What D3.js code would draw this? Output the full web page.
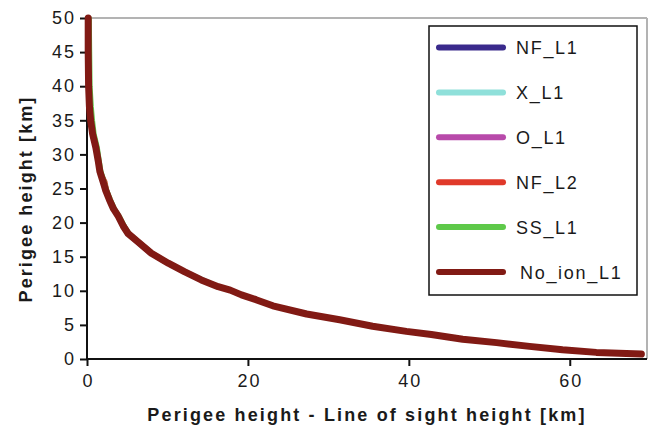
<!DOCTYPE html>
<html>
<head>
<meta charset="utf-8">
<script src="https://cdn.jsdelivr.net/npm/d3@7"></script>
<style>
    body { margin: 0; background: #fff; }
    text { font-family: "Liberation Sans", Arial, sans-serif; fill: #1a1a1a; }
</style>
</head>
<body>
<div id="chartcontainer"></div>
<script>
// Perigee height [km] (shared y values)
var perigeeHeight = [50, 45, 40, 37, 35, 33, 31, 29, 27.5, 26, 24.8, 23.3, 22, 20.9, 19.5, 18.4, 17.2, 15.5,
    14.05, 12.8, 11.6, 10.6, 10.1, 9.4, 8.7, 7.8, 6.6, 5.75, 4.8, 4.05, 3.6, 2.9, 2.4, 1.85, 1.35, 0.97, 0.73];

// Perigee height - line of sight height [km], one array per series
var nfL1    = [0.15, 0.15, 0.2, 0.3, 0.45, 0.7, 1.1, 1.4, 1.6, 2.0, 2.3, 2.8, 3.3, 3.9, 4.5, 5.1, 6.3, 8.0, 10.1, 12.1, 14.2, 16.3, 17.8, 19.2, 21.0, 23.1, 27.3, 31.4, 35.5, 39.7, 42.8, 46.7, 50.9, 55.0, 59.1, 63.3, 68.9];
var xL1     = [0.2, 0.2, 0.25, 0.35, 0.5, 0.75, 1.15, 1.45, 1.7, 2.1, 2.4, 2.9, 3.4, 4.0, 4.7, 5.3, 6.5, 8.2, 10.3, 12.4, 14.6, 16.5, 18.0, 19.4, 21.2, 23.3, 27.5, 31.6, 35.7, 39.9, 43.0, 47.0, 51.2, 55.3, 59.4, 63.5, 69.0];
var oL1     = [0.15, 0.15, 0.2, 0.3, 0.45, 0.65, 1.05, 1.35, 1.55, 1.95, 2.25, 2.7, 3.2, 3.8, 4.4, 5.0, 6.1, 7.8, 9.9, 11.9, 14.0, 16.1, 17.6, 19.0, 20.9, 23.0, 27.2, 31.3, 35.4, 39.6, 42.7, 46.6, 50.8, 54.9, 59.0, 63.2, 68.9];
var nfL2    = [0.15, 0.2, 0.2, 0.3, 0.5, 0.7, 1.1, 1.45, 1.65, 2.3, 2.5, 2.9, 3.4, 4.0, 4.6, 5.2, 6.4, 8.1, 10.2, 12.2, 14.3, 16.4, 17.9, 19.3, 21.1, 23.2, 27.4, 31.5, 35.6, 39.8, 42.9, 46.8, 51.0, 55.1, 59.2, 63.4, 68.9];
var ssL1    = [0.35, 0.4, 0.45, 0.6, 0.75, 0.95, 1.35, 1.6, 1.8, 2.2, 2.5, 3.0, 3.5, 4.1, 4.7, 5.3, 6.5, 8.2, 10.3, 12.3, 14.4, 16.5, 18.0, 19.4, 21.2, 23.3, 27.5, 31.6, 35.7, 39.9, 43.0, 46.9, 51.1, 55.2, 59.3, 63.5, 69.0];
var noIonL1 = [0.15, 0.15, 0.2, 0.3, 0.45, 0.7, 1.1, 1.4, 1.6, 2.0, 2.3, 2.8, 3.3, 3.9, 4.5, 5.1, 6.3, 8.0, 10.1, 12.1, 14.2, 16.3, 17.8, 19.2, 21.0, 23.1, 27.3, 31.4, 35.5, 39.7, 42.8, 46.7, 50.9, 55.0, 59.1, 63.3, 68.9];

var seriesNames = ["NF_L1", "X_L1", "O_L1", "NF_L2", "SS_L1", "No_ion_L1"];
var seriesX = [nfL1, xL1, oL1, nfL2, ssL1, noIonL1];
var seriesColors = ["#3a2a8c", "#8fe0da", "#b84aaa", "#e0392a", "#5ec94a", "#811a14"];

var xTicks = [0, 20, 40, 60];
var yTicks = [0, 5, 10, 15, 20, 25, 30, 35, 40, 45, 50];

var margin = { top: 18, right: 4, bottom: 72, left: 87 },
    fullWidth = 651,
    fullHeight = 431,
    width = fullWidth - margin.left - margin.right,
    height = fullHeight - margin.top - margin.bottom;

var svg = d3.select("#chartcontainer").append("svg")
    .attr("width", fullWidth)
    .attr("height", fullHeight);

var g = svg.append("g")
    .attr("transform", "translate(" + margin.left + "," + margin.top + ")");

var x = d3.scaleLinear().domain([0, 69.6]).range([0, width]);
var y = d3.scaleLinear().domain([0, 50]).range([height, 0]);

// gray frame, top and right
g.append("line").attr("x1", 0).attr("x2", width).attr("y1", 0).attr("y2", 0)
    .attr("stroke", "#b3b3b3").attr("stroke-width", 2);
g.append("line").attr("x1", width).attr("x2", width).attr("y1", 0).attr("y2", height)
    .attr("stroke", "#b3b3b3").attr("stroke-width", 2);

// axes
var xAxis = g.append("g")
    .attr("transform", "translate(0," + height + ")")
    .call(d3.axisBottom(x).tickValues(xTicks).tickSize(7).tickPadding(8).tickFormat(d3.format("d")));
var yAxis = g.append("g")
    .call(d3.axisLeft(y).tickValues(yTicks).tickSize(7).tickPadding(4).tickFormat(d3.format("d")));

[xAxis, yAxis].forEach(function (ax) {
    ax.select(".domain").attr("stroke", "#111").attr("stroke-width", 2);
    ax.selectAll(".tick line").attr("stroke", "#111").attr("stroke-width", 2);
    ax.selectAll(".tick text")
        .style("font-family", "'Liberation Sans', Arial, sans-serif")
        .style("font-size", "18px")
        .style("letter-spacing", "2px")
        .attr("fill", "#1a1a1a");
});
xAxis.selectAll(".tick text").attr("dx", "1px");
xAxis.select(".domain").attr("d", "M0,0H" + width);
yAxis.select(".domain").attr("d", "M0," + height + "V0");

// axis titles
svg.append("text")
    .attr("x", 367)
    .attr("y", 421)
    .attr("text-anchor", "middle")
    .style("font-size", "18px")
    .style("font-weight", "bold")
    .style("letter-spacing", "2.15px")
    .text("Perigee height - Line of sight height [km]");

svg.append("text")
    .attr("transform", "translate(32,199) rotate(-90)")
    .attr("text-anchor", "middle")
    .style("font-size", "18px")
    .style("font-weight", "bold")
    .style("letter-spacing", "2.1px")
    .text("Perigee height [km]");

// series lines
var line = d3.line()
    .x(function (d) { return x(d[0]); })
    .y(function (d) { return y(d[1]); });

seriesX.forEach(function (xs, i) {
    var pts = xs.map(function (v, j) { return [v, perigeeHeight[j]]; });
    g.append("path")
        .datum(pts)
        .attr("d", line)
        .attr("fill", "none")
        .attr("stroke", seriesColors[i])
        .attr("stroke-width", i === 5 ? 7 : 4)
        .attr("stroke-linejoin", "round")
        .attr("stroke-linecap", "round");
});

// legend
var legend = svg.append("g").attr("transform", "translate(429,26)");
legend.append("rect")
    .attr("width", 208).attr("height", 269)
    .attr("fill", "#fff").attr("stroke", "#111").attr("stroke-width", 1.5);

seriesNames.forEach(function (name, i) {
    var ly = 21.5 + i * 44.9;
    legend.append("line")
        .attr("x1", 10).attr("x2", 74)
        .attr("y1", ly).attr("y2", ly)
        .attr("stroke", seriesColors[i])
        .attr("stroke-width", 6)
        .attr("stroke-linecap", "round");
    legend.append("text")
        .attr("x", i === 5 ? 91 : 87)
        .attr("y", ly + 6.5)
        .style("font-size", "18px")
        .style("letter-spacing", "1.7px")
        .text(name);
});
</script>
</body>
</html>
